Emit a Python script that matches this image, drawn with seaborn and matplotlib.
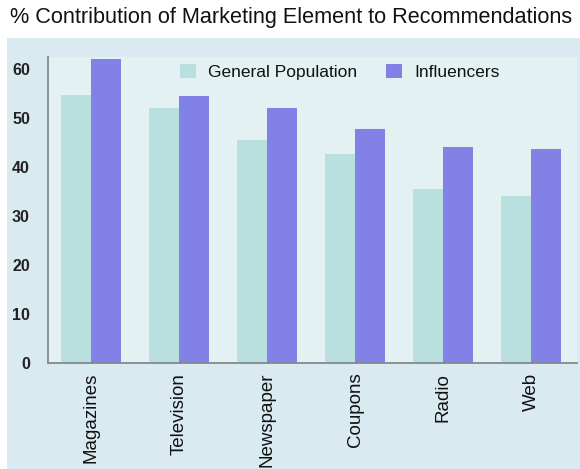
import matplotlib
matplotlib.use("Agg")
import matplotlib.pyplot as plt
from matplotlib.patches import Rectangle
import pandas as pd
import seaborn as sns

categories = ["Magazines", "Television", "Newspaper", "Coupons", "Radio", "Web"]
general_population = [54.7, 52.0, 45.5, 42.7, 35.5, 34.1]
influencers = [62.0, 54.5, 52.0, 47.8, 44.1, 43.7]
series_names = ["General Population", "Influencers"]
y_ticks = [0, 10, 20, 30, 40, 50, 60]

df = pd.DataFrame({
    "Element": categories * 2,
    "Series": [series_names[0]] * len(categories) + [series_names[1]] * len(categories),
    "Value": general_population + influencers,
})

sns.set_style("white")
plt.rcParams["font.family"] = ["Liberation Sans", "DejaVu Sans"]

fig = plt.figure(figsize=(5.8, 4.69), dpi=100)
fig.patch.set_facecolor("white")
# light blue panel behind the chart
panel = Rectangle((7 / 580, 0), 1, 1 - 38 / 469, transform=fig.transFigure,
                  facecolor="#d9eaf1", edgecolor="none", zorder=-10)
fig.add_artist(panel)

ax = fig.add_axes([48 / 580, 1 - 363 / 469, (577 - 48) / 580, (363 - 57) / 469])
ax.set_zorder(1)
ax.set_facecolor("#e3f1f3")

palette = {series_names[0]: "#b9dfdf", series_names[1]: "#8282e6"}
sns.barplot(data=df, x="Element", y="Value", hue="Series", palette=palette,
            width=0.68, gap=0, saturation=1, ax=ax, edgecolor="none")

ax.set_xlim(-0.49, 5.52)
ax.set_ylim(0, 62.4)
ax.set_yticks(y_ticks)
ax.set_yticklabels([str(t) for t in y_ticks], fontsize=11.5, fontweight="bold", color="#222222")
ax.set_xticks(range(len(categories)))
ax.set_xticklabels(categories, rotation=90, fontsize=13.5, color="#111111")
ax.tick_params(axis="both", length=0)
ax.tick_params(axis="y", pad=13)
ax.tick_params(axis="x", pad=7)
ax.set_xlabel("")
ax.set_ylabel("")
for s in ["top", "right"]:
    ax.spines[s].set_visible(False)
for s in ["left", "bottom"]:
    ax.spines[s].set_color("#7f8a8c")
    ax.spines[s].set_linewidth(1.3)

leg = ax.legend(loc="upper left", bbox_to_anchor=(0.2495, 0.977), ncol=2, frameon=False,
                fontsize=12.5, handlelength=0.9, handleheight=0.9, columnspacing=1.7,
                handletextpad=0.7, borderpad=0, borderaxespad=0)
for t in leg.get_texts():
    t.set_color("#111111")

fig.text(10 / 580, 1 - 18 / 469, "% Contribution of Marketing Element to Recommendations",
         fontsize=15.6, va="center", ha="left", color="#111111")

fig.savefig("out.png", dpi=100)
